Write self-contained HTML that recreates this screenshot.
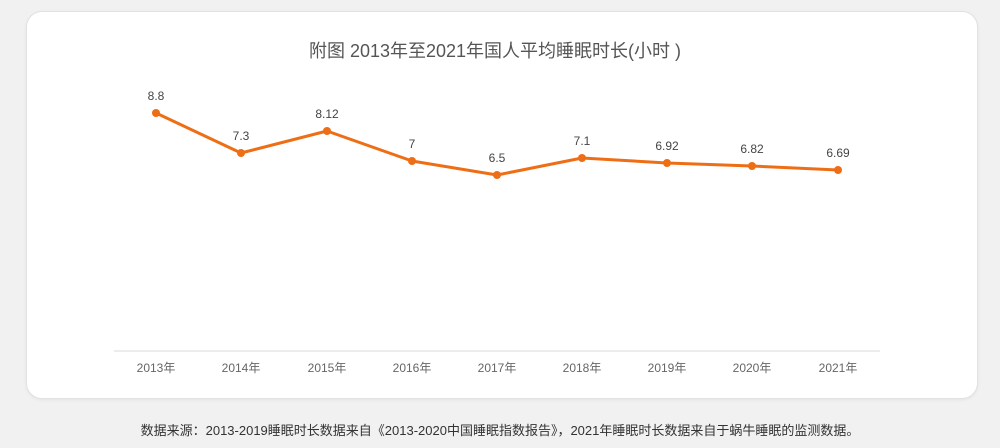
<!DOCTYPE html>
<html><head><meta charset="utf-8"><style>
body{margin:0;width:1000px;height:448px;background:#f1f1f1;overflow:hidden;font-family:"Liberation Sans","Noto Sans CJK SC",sans-serif}
.card{position:absolute;left:26px;top:11px;width:950px;height:386px;background:#fff;border:1px solid #e2e2e2;border-radius:16px;box-shadow:0 1px 3px rgba(0,0,0,0.06)}
</style></head><body>
<div class="card"></div>
<svg width="1000" height="448" style="position:absolute;left:0;top:0" font-family="Liberation Sans, Noto Sans CJK SC, sans-serif">
<text x="495" y="57" text-anchor="middle" font-size="18" fill="#555">附图 2013年至2021年国人平均睡眠时长(小时 )</text>
<line x1="114" y1="351" x2="880" y2="351" stroke="#e6e6e6" stroke-width="1.5"/>
<g font-size="12" fill="#666" text-anchor="middle">
<text x="156" y="372">2013年</text><text x="241" y="372">2014年</text><text x="327" y="372">2015年</text><text x="412" y="372">2016年</text><text x="497" y="372">2017年</text><text x="582" y="372">2018年</text><text x="667" y="372">2019年</text><text x="752" y="372">2020年</text><text x="838" y="372">2021年</text>
</g>
<polyline fill="none" stroke="#ee6e16" stroke-width="3" stroke-linejoin="round" points="156,113 241,153 327,131 412,161 497,175 582,158 667,163 752,166 838,170"/>
<g fill="#ee6e16">
<circle cx="156" cy="113" r="4"/><circle cx="241" cy="153" r="4"/><circle cx="327" cy="131" r="4"/><circle cx="412" cy="161" r="4"/><circle cx="497" cy="175" r="4"/><circle cx="582" cy="158" r="4"/><circle cx="667" cy="163" r="4"/><circle cx="752" cy="166" r="4"/><circle cx="838" cy="170" r="4"/>
</g>
<g font-size="12" fill="#444" text-anchor="middle">
<text x="156" y="100">8.8</text><text x="241" y="140">7.3</text><text x="327" y="118">8.12</text><text x="412" y="148">7</text><text x="497" y="162">6.5</text><text x="582" y="145">7.1</text><text x="667" y="150">6.92</text><text x="752" y="153">6.82</text><text x="838" y="157">6.69</text>
</g>
<text x="500" y="435" text-anchor="middle" font-size="13" fill="#333">数据来源：2013-2019睡眠时长数据来自《2013-2020中国睡眠指数报告》，2021年睡眠时长数据来自于蜗牛睡眠的监测数据。</text>
</svg>
</body></html>
